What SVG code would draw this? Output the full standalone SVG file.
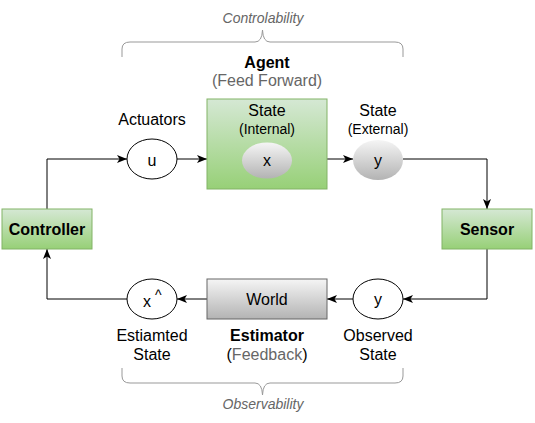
<svg xmlns="http://www.w3.org/2000/svg" width="535" height="423" viewBox="0 0 535 423">
<defs>
<linearGradient id="green" x1="0" y1="0" x2="0" y2="1"><stop offset="0" stop-color="#d5e8d4"/><stop offset="1" stop-color="#97d077"/></linearGradient>
<linearGradient id="gray" x1="0" y1="0" x2="0" y2="1"><stop offset="0" stop-color="#f5f5f5"/><stop offset="1" stop-color="#b3b3b3"/></linearGradient>
<marker id="arr" viewBox="0 0 10 10" refX="10" refY="5" markerWidth="10" markerHeight="10" markerUnits="userSpaceOnUse" orient="auto"><path d="M0,1 L10,5 L0,9 L2.5,5 Z" fill="#000"/></marker>
</defs>
<style>
text{font-family:"Liberation Sans",Arial,sans-serif;text-anchor:middle;fill:#000;font-size:16px}
.b{font-weight:bold}
.s{font-size:14px}
.g{fill:#666}
.i{font-style:italic}
.gbox{fill:url(#green);stroke:#82b366;stroke-width:1}
.wbox{fill:url(#gray);stroke:#666;stroke-width:1}
.gell{fill:url(#gray);stroke:none}
.ell{fill:#fff;stroke:#000;stroke-width:1}
.c{fill:none;stroke:#000;stroke-width:1;marker-end:url(#arr)}
.br{fill:none;stroke:#999;stroke-width:1}
</style>

<g id="connectors">
<path class="c" d="M47,209 V159 H127"/>
<path class="c" d="M177,159 H207"/>
<path class="c" d="M327,159 H353"/>
<path class="c" d="M403,159 H487 V209"/>
<path class="c" d="M487,249 V299 H403"/>
<path class="c" d="M353,299 H327"/>
<path class="c" d="M207,299 H177"/>
<path class="c" d="M127,299 H47 V249"/>
</g>

<g id="brace-top">
<path class="br" d="M122,57 V49 Q122,42 130,42 H255 Q262,42 262.5,30 Q263,42 270,42 H395 Q403,42 403,49 V57"/>
<text class="s i g" x="263" y="23">Controlability</text>
</g>

<g id="agent">
<text class="b" x="267" y="68">Agent</text>
<text class="g" x="267" y="86">(Feed Forward)</text>
<rect class="gbox" x="207" y="99" width="120" height="90"/>
<text x="267" y="116">State</text>
<text class="s" x="267" y="134">(Internal)</text>
</g>

<g id="state-x">
<ellipse class="gell" cx="267" cy="160.5" rx="25" ry="18"/>
<text x="267" y="166">x</text>
</g>

<g id="actuator-u">
<text x="152" y="125">Actuators</text>
<ellipse class="ell" cx="152" cy="159" rx="25" ry="20"/>
<text x="152" y="166">u</text>
</g>

<g id="state-y">
<text x="378" y="116">State</text>
<text class="s" x="378" y="134">(External)</text>
<ellipse class="gell" cx="378" cy="160" rx="25" ry="20"/>
<text x="378" y="166">y</text>
</g>

<g id="controller">
<rect class="gbox" x="2" y="209" width="90" height="40"/>
<text class="b" x="47" y="234.5">Controller</text>
</g>

<g id="sensor">
<rect class="gbox" x="442" y="209" width="90" height="40"/>
<text class="b" x="487" y="234.5">Sensor</text>
</g>

<g id="observed-y">
<ellipse class="ell" cx="378" cy="299" rx="25" ry="20"/>
<text x="378" y="305">y</text>
<text x="378" y="341">Observed</text>
<text x="378" y="359.5">State</text>
</g>

<g id="world">
<rect class="wbox" x="207" y="279" width="120" height="40"/>
<text x="267" y="304.5">World</text>
<text class="b" x="267" y="341">Estimator</text>
<text x="267" y="359.5">(<tspan class="g">Feedback</tspan>)</text>
</g>

<g id="estimated-x">
<ellipse class="ell" cx="152" cy="299" rx="25" ry="20"/>
<text x="143" y="307" style="text-anchor:start">x<tspan dx="4" dy="-7" style="font-size:14px">^</tspan></text>
<text x="152" y="341">Estiamted</text>
<text x="152" y="359.5">State</text>
</g>

<g id="brace-bottom">
<path class="br" d="M122,368 V376 Q122,383 130,383 H255 Q262,383 262.5,395 Q263,383 270,383 H395 Q403,383 403,376 V368"/>
<text class="s i g" x="263" y="409">Observability</text>
</g>
</svg>
